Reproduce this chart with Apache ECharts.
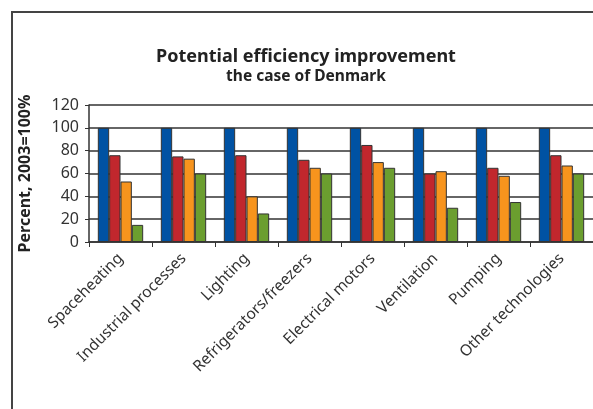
<!DOCTYPE html>
<html>
<head>
<meta charset="utf-8">
<script src="https://cdn.jsdelivr.net/npm/echarts@6/dist/echarts.min.js"></script>
<style>
  html, body { margin: 0; padding: 0; background: #fff; }
  #frame {
    position: absolute; left: 11px; top: 11px; width: 700px; height: 500px;
    border-left: 2px solid #444; border-top: 2px solid #444;
  }
  #chart { position: absolute; left: 0; top: 0; width: 593px; height: 409px; }
</style>
</head>
<body>
<div id="frame"></div>
<div id="chart"></div>
<script>
// Chart data
const categories = ['Spaceheating', 'Industrial processes', 'Lighting', 'Refrigerators/freezers',
  'Electrical motors', 'Ventilation', 'Pumping', 'Other technologies'];
const series1 = [100, 100, 100, 100, 100, 100, 100, 100];
const series2 = [76, 75, 76, 72, 85, 60, 65, 76];
const series3 = [53, 73, 40, 65, 70, 62, 58, 67];
const series4 = [15, 60, 25, 60, 65, 30, 35, 60];
const yTicks = [0, 20, 40, 60, 80, 100, 120];

const colors = ['#0052a3', '#c1272d', '#f7941d', '#6b9e2f'];
const font = 'Noto Sans';

function bar(data, i) {
  return {
    type: 'bar',
    data: data,
    barGap: '0%',
    barCategoryGap: '28%',
    itemStyle: { color: colors[i], borderColor: '#333', borderWidth: 1 }
  };
}

const chart = echarts.init(document.getElementById('chart'));
chart.setOption({
  animation: false,
  textStyle: { fontFamily: font },
  title: {
    text: 'Potential efficiency improvement',
    subtext: 'the case of Denmark',
    left: 301, top: 43, textAlign: 'center',
    itemGap: 3,
    textStyle: { fontSize: 18, fontWeight: 'bold', color: '#222', fontFamily: font },
    subtextStyle: { fontSize: 15.5, fontWeight: 'bold', color: '#222', fontFamily: font }
  },
  grid: { left: 89, right: -5, top: 105, bottom: 167 },
  xAxis: {
    type: 'category',
    data: categories,
    axisLine: { lineStyle: { color: '#333', width: 1.5 } },
    axisTick: { show: true, length: 5, lineStyle: { color: '#333' } },
    axisLabel: { rotate: 45, interval: 0, fontSize: 15.5, color: '#333', margin: 14 }
  },
  yAxis: {
    type: 'value',
    min: yTicks[0], max: yTicks[yTicks.length - 1], interval: 20,
    name: 'Percent, 2003=100%',
    nameLocation: 'middle', nameRotate: 90, nameGap: 56,
    nameTextStyle: { fontSize: 16, fontWeight: 'bold', color: '#222' },
    axisLine: { show: true, lineStyle: { color: '#333', width: 1.5 } },
    axisTick: { show: true, length: 4, lineStyle: { color: '#333' } },
    axisLabel: { fontSize: 16, color: '#333', margin: 10 },
    splitLine: { lineStyle: { color: '#333', width: 1.5 } }
  },
  series: [bar(series1, 0), bar(series2, 1), bar(series3, 2), bar(series4, 3)]
});
</script>
</body>
</html>
